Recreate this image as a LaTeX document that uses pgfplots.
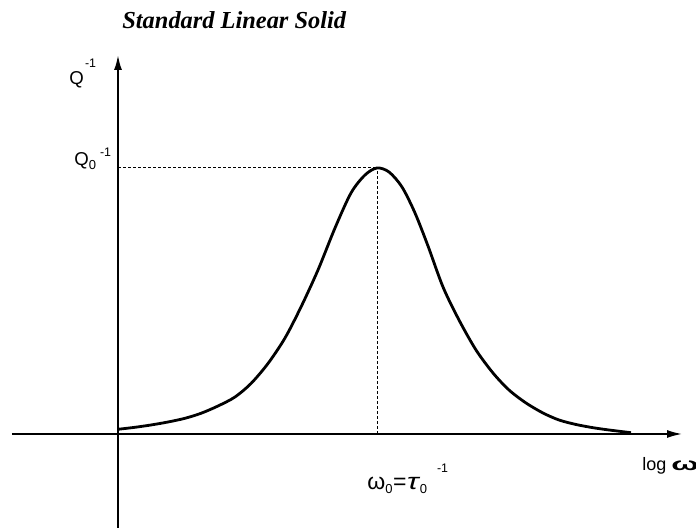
\documentclass[border=0pt]{standalone}
\usepackage{pgfplots}
\pgfplotsset{compat=1.18}
\usetikzlibrary{arrows.meta}
\usepackage{fontspec}
\setmainfont{Liberation Sans}
\newfontfamily\titlefont{Liberation Serif}

% curve, in pixels from the origin
\pgfplotstableread{
x   y
0   4.7
17  6.7
33  9
50  12
67  15.7
83  20.7
100 28
117 37
133 50.5
150 70.5
167 96
183 127
200 164
217 206
233 241
247 259
259 266
271 262
284 247
297 221
310 188
325 147
341 114
358 84
375 61
391 44
408 31
425 21
441 14
458 9.5
475 6.3
491 4
513 1.3
}\peak

\begin{document}
\begin{tikzpicture}
\begin{axis}[
    x=0.5pt, y=0.5pt,
    xmin=-106, xmax=564,
    ymin=-94, ymax=379,
    axis lines=middle,
    ticks=none,
    clip=false,
    x axis line style={line width=0.8pt, -{Latex[length=7.5pt,width=4pt]}},
    y axis line style={line width=1pt, -{Latex[length=7.5pt,width=4pt]}},
]
    \addplot[black, line width=0.5pt, dash pattern=on 1.5pt off 1pt] coordinates {(0,266) (259,266)};
    \addplot[black, line width=0.5pt, dash pattern=on 1.5pt off 1pt] coordinates {(259,0) (259,266)};
    \addplot[black, line width=1.4pt, smooth, tension=0.5] table[x=x, y=y] {\peak};

    \node[anchor=base west, inner sep=0pt] at (axis cs:4,405)
        {\titlefont\bfseries\itshape\fontsize{12.2}{14}\selectfont Standard Linear Solid};
    \node[anchor=base west, inner sep=0pt] at (axis cs:-49,349)
        {\fontsize{9.3}{11}\selectfont Q\kern0.6pt\raisebox{8.5pt}{\fontsize{6.2}{7}\selectfont -1}};
    \node[anchor=base west, inner sep=0pt] at (axis cs:-44,268)
        {\fontsize{9.3}{11}\selectfont Q\raisebox{-2pt}{\fontsize{6.5}{7}\selectfont 0}\kern2pt\raisebox{4.5pt}{\fontsize{6.2}{7}\selectfont -1}};
    \node[anchor=base west, inner sep=0pt] at (axis cs:524,-37)
        {\fontsize{9}{10}\selectfont log\kern2.5pt\scalebox{1.8}[1]{\bfseries ω}};
    \node[anchor=base west, inner sep=0pt] at (axis cs:249,-56)
        {\fontsize{11.5}{13}\selectfont ω\raisebox{-2pt}{\fontsize{6.5}{7}\selectfont 0}\kern0.3pt=\kern0.3pt\scalebox{1.35}[1]{\itshape τ}\kern0.5pt\raisebox{-2pt}{\fontsize{6.5}{7}\selectfont 0}\kern5pt\raisebox{8.5pt}{\fontsize{6.2}{7}\selectfont -1}};

    \coordinate (bl) at (axis cs:-118,-94);
    \coordinate (tr) at (axis cs:578,434);
\end{axis}
\pgfresetboundingbox
\path (bl) rectangle (tr);
\end{tikzpicture}
\end{document}
